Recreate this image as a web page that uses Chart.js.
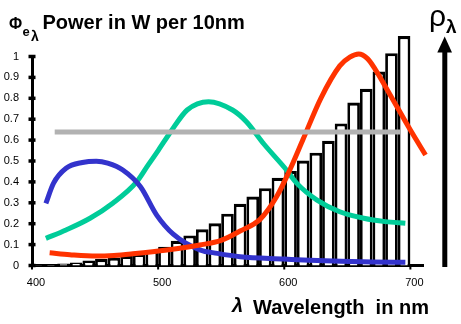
<!DOCTYPE html>
<html><head><meta charset="utf-8">
<script src="https://cdn.jsdelivr.net/npm/chart.js@4.4.1/dist/chart.umd.min.js"></script>
<style>html,body{margin:0;padding:0;background:#fff;overflow:hidden}canvas{display:block}</style>
</head><body>
<canvas id="c" width="461" height="324"></canvas>
<script>
// ---- data ----
const binStarts = [400,410,420,430,440,450,460,470,480,490,500,510,520,530,540,550,560,570,580,590,600,610,620,630,640,650,660,670,680,690];
const binPower  = [0.002,0.005,0.009,0.014,0.024,0.031,0.038,0.046,0.056,0.071,0.09,0.118,0.144,0.173,0.202,0.248,0.295,0.33,0.37,0.42,0.452,0.502,0.54,0.597,0.68,0.78,0.846,0.928,1.016,1.098];

const blueX = [411,417,427,440,451,460,472,486,499,512,533,547,565,600,620,645,670,696];
const blueY = [0.297,0.393,0.465,0.493,0.499,0.49,0.457,0.377,0.24,0.15,0.075,0.058,0.042,0.031,0.025,0.02,0.017,0.015];

const greenX = [411,427,446,464,483,492,500,510,523,540,559,570,584,600,610,626,644,663,680,696];
const greenY = [0.13,0.17,0.226,0.298,0.40,0.48,0.55,0.64,0.744,0.784,0.744,0.688,0.58,0.47,0.393,0.313,0.257,0.226,0.21,0.202];

const redX = [414,430,451,465,480,507,533,550,565,581,594,605,615,629,644,652,659,666,672,684,700,712];
const redY = [0.061,0.052,0.045,0.048,0.056,0.074,0.098,0.12,0.165,0.222,0.33,0.465,0.605,0.8,0.955,0.997,1.012,0.99,0.94,0.816,0.648,0.529];

const greyX = [418,692];
const greyY = [0.639,0.639];

const xTicks = [400,500,600,700];
const xTickLabels = ['400','500','600','700'];
const yTicks = [0,0.1,0.2,0.3,0.4,0.5,0.6,0.7,0.8,0.9,1];
const yTickLabels = ['0','0.1','0.2','0.3','0.4','0.5','0.6','0.7','0.8','0.9','1'];

// ---- chart ----
const FONT = '"Liberation Sans", Arial, Helvetica, sans-serif';
Chart.defaults.font.family = FONT;
Chart.defaults.font.size = 11;
Chart.defaults.color = '#000';

const pts = (xs, ys) => xs.map((x, i) => ({x: x, y: ys[i]}));
const lineDS = (label, xs, ys, color) => ({
  type: 'line', label: label, data: pts(xs, ys), borderColor: color, borderWidth: 5,
  pointRadius: 0, fill: false, cubicInterpolationMode: 'monotone', clip: false
});

const decor = {
  id: 'decor',
  afterDraw(chart) {
    const ctx = chart.ctx, x = chart.scales.x, y = chart.scales.y;
    const ax = chart.chartArea.left;
    ctx.save();
    ctx.strokeStyle = '#000';
    ctx.lineWidth = 3.5;
    yTicks.forEach(v => {
      const py = y.getPixelForValue(v);
      ctx.beginPath(); ctx.moveTo(ax - 3.5, py); ctx.lineTo(ax + 3.5, py); ctx.stroke();
    });
    ctx.lineWidth = 2;
    xTicks.forEach(v => {
      const px = x.getPixelForValue(v);
      ctx.beginPath(); ctx.moveTo(px, y.bottom); ctx.lineTo(px, y.bottom + 4); ctx.stroke();
    });
    // right arrow
    ctx.lineWidth = 5;
    ctx.beginPath(); ctx.moveTo(444.8, y.bottom + 1.5); ctx.lineTo(444.8, 50); ctx.stroke();
    ctx.fillStyle = '#000';
    ctx.beginPath(); ctx.moveTo(437.3, 52.5); ctx.lineTo(452, 52.5); ctx.lineTo(444.7, 36.5); ctx.closePath(); ctx.fill();

    // texts
    ctx.textAlign = 'left';
    ctx.textBaseline = 'alphabetic';
    ctx.font = 'bold 16px ' + FONT;
    ctx.fillText('\u03A6', 9, 28.5);
    ctx.font = 'bold 13px ' + FONT;
    ctx.fillText('e', 22.5, 35.5);
    ctx.font = 'bold 14px ' + FONT;
    ctx.fillText('\u03BB', 31, 40.5);
    ctx.font = 'bold 20px ' + FONT;
    ctx.fillText('Power in W per 10nm', 42.5, 28.5);

    ctx.font = '30px ' + FONT;
    ctx.fillText('\u03C1', 429, 25.5);
    ctx.font = 'bold 19px ' + FONT;
    ctx.fillText('\u03BB', 446, 33);

    ctx.font = 'italic bold 20px ' + FONT;
    ctx.fillText('\u03BB', 232, 312);
    ctx.font = 'bold 20px ' + FONT;
    ctx.fillText('Wavelength  in nm', 253, 314);
    ctx.restore();
  }
};

new Chart(document.getElementById('c'), {
  type: 'bar',
  data: {
    datasets: [
      lineDS('grey', greyX, greyY, '#b2b2b2'),
      lineDS('red', redX, redY, '#ff3300'),
      lineDS('blue', blueX, blueY, '#3333cc'),
      lineDS('green', greenX, greenY, '#00cc99'),
      {
        type: 'bar', label: 'power',
        data: binStarts.map((s, i) => ({x: s + 5, y: binPower[i]})),
        backgroundColor: '#ffffff', borderColor: '#000000',
        borderWidth: {top: 3.2, left: 2.8, right: 2.8, bottom: 0},
        inflateAmount: 0,
        barPercentage: 1, categoryPercentage: 1, clip: false
      }
    ]
  },
  options: {
    responsive: false, animation: false, devicePixelRatio: 1,
    layout: {padding: {top: 56.5, right: 38, left: 0, bottom: 0}},
    plugins: {legend: {display: false}, tooltip: {enabled: false}, title: {display: false}},
    scales: {
      x: {
        type: 'linear', min: 400, max: 710, offset: false,
        afterBuildTicks: s => { s.ticks = xTicks.map(v => ({value: v})); },
        afterFit: s => { s.height = 58.5; },
        grid: {display: false, drawTicks: false, offset: false},
        border: {display: true, color: '#000', width: 3},
        ticks: {padding: 11, labelOffset: 4, maxRotation: 0, autoSkip: false, color: '#000',
                callback: (v, i) => xTickLabels[i]}
      },
      y: {
        type: 'linear', min: 0, max: 1,
        afterBuildTicks: s => { s.ticks = yTicks.map(v => ({value: v})); },
        afterFit: s => { s.width = 32; },
        grid: {display: false, drawTicks: false},
        border: {display: true, color: '#000', width: 3},
        ticks: {padding: 13, autoSkip: false, color: '#000',
                callback: (v, i) => yTickLabels[i]}
      }
    }
  },
  plugins: [decor]
});
</script>
</body></html>
